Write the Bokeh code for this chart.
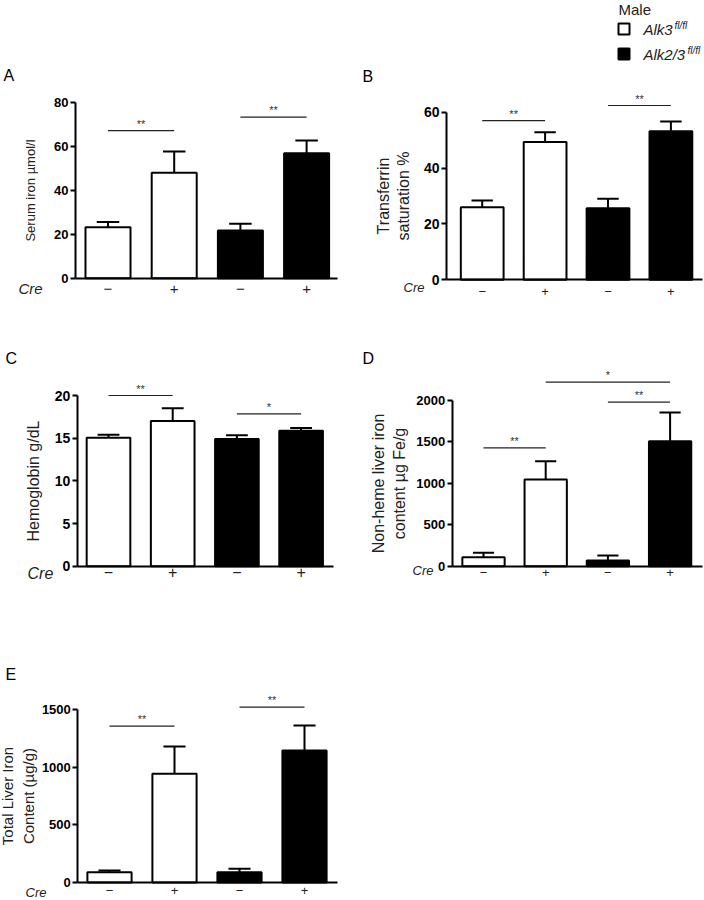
from bokeh.plotting import figure
from bokeh.layouts import column, row
from bokeh.models import FixedTicker, ColumnDataSource, Range1d, LinearAxis
from bokeh.core.properties import value
from bokeh.embed import file_html
from bokeh.resources import INLINE

FONT = "Liberation Sans"

# ---------------- data ----------------
bar_x = [1, 2, 3, 4]
genotype = ["Alk3", "Alk3", "Alk2/3", "Alk2/3"]
cre_labels = ["\u2212", "+", "\u2212", "+"]
legend_names = ["Alk3", "Alk2/3"]
legend_sup = "fl/fl"
legend_title = "Male"

serum_iron_mean = [23.2, 47.9, 21.7, 56.8]
serum_iron_sem = [2.3, 9.7, 3.0, 5.8]
serum_iron_sig = [(1, 2, 67.1, "**"), (3, 4, 73.2, "**")]
serum_iron_ticks = [0, 20, 40, 60, 80]

tsat_mean = [26.0, 49.3, 25.6, 53.2]
tsat_sem = [2.4, 3.5, 3.4, 3.5]
tsat_sig = [(1, 2, 57.0, "**"), (3, 4, 62.4, "**")]
tsat_ticks = [0, 20, 40, 60]

hb_mean = [15.04, 17.0, 14.9, 15.86]
hb_sem = [0.36, 1.5, 0.45, 0.34]
hb_sig = [(1, 2, 20.0, "**"), (3, 4, 17.85, "*")]
hb_ticks = [0, 5, 10, 15, 20]

nonheme_mean = [109, 1046, 69, 1509]
nonheme_sem = [53, 221, 60, 346]
nonheme_sig = [(1, 2, 1429, "**"), (3, 4, 1980, "**"), (2, 4, 2221, "*")]
nonheme_ticks = [0, 500, 1000, 1500, 2000]

total_mean = [89, 944, 89, 1146]
total_sem = [15, 237, 30, 218]
total_sig = [(1, 2, 1358, "**"), (3, 4, 1523, "**")]
total_ticks = [0, 500, 1000, 1500]

TXT = "#222222"


def make_panel(mean, sem, sig, ticks, ylabel, letter, g, st):
    # page-pixel -> data helpers (layout only)
    def dx(px):
        return 1 + (px - g["c1"]) / g["s"]

    def dy(py):
        return (g["y0"] - py) / g["ky"]

    p = figure(width=g["W"], height=g["H"], output_backend="svg", toolbar_location=None,
               x_range=Range1d(dx(g["L"]), dx(g["L"] + g["W"])),
               y_range=Range1d(dy(g["T"] + g["H"]), dy(g["T"])),
               x_axis_location=None, y_axis_location=None, min_border=0)
    p.outline_line_color = None
    p.grid.visible = False
    p.background_fill_color = "white"
    p.border_fill_color = "white"

    bw = 0.68
    fills = ["white", "white", "black", "black"]
    src = ColumnDataSource(dict(x=bar_x, top=mean, fill=fills))
    p.vbar(x="x", top="top", bottom=0, width=bw, source=src, fill_color="fill",
           line_color="black", line_width=2)

    # error bars (upper only)
    err_top = [m + s for m, s in zip(mean, sem)]
    cap = 0.17
    p.segment(x0=bar_x, y0=mean, x1=bar_x, y1=err_top, line_color="black", line_width=2)
    p.segment(x0=[x - cap for x in bar_x], y0=err_top, x1=[x + cap for x in bar_x], y1=err_top,
              line_color="black", line_width=2)

    # significance lines
    sx0 = [s[0] for s in sig]
    sx1 = [s[1] for s in sig]
    sy = [s[2] for s in sig]
    stx = [s[3] for s in sig]
    p.segment(x0=sx0, y0=sy, x1=sx1, y1=sy, line_color=TXT, line_width=1.2)
    p.text(x=[(a + b) / 2 for a, b in zip(sx0, sx1)], y=sy, text=stx, text_align="center",
           text_baseline="bottom", y_offset=-1, text_font=value(FONT),
           text_font_size="11px", text_color="#333333")

    # axes at fixed locations
    ya = LinearAxis(fixed_location=dx(g["xa"]), bounds=(0, ticks[-1]),
                    ticker=FixedTicker(ticks=ticks))
    ya.minor_tick_line_color = None
    ya.major_tick_out = 5
    ya.major_tick_in = 0
    ya.major_tick_line_width = 2
    ya.axis_line_width = 2
    ya.major_label_text_font = FONT
    ya.major_label_text_font_style = "bold"
    ya.major_label_text_font_size = st["tick_fs"]
    ya.major_label_text_color = "black"
    ya.major_label_standoff = 2
    ya.axis_label = ylabel
    ya.axis_label_text_font = FONT
    ya.axis_label_text_font_style = "normal"
    ya.axis_label_text_font_size = st["ylab_fs"]
    ya.axis_label_text_color = TXT
    ya.axis_label_standoff = st["ylab_so"]
    p.add_layout(ya, "left")

    xa = LinearAxis(fixed_location=0, bounds=(dx(g["xa"]), dx(g["xr"])),
                    ticker=FixedTicker(ticks=bar_x))
    xa.major_label_overrides = {x: c for x, c in zip(bar_x, cre_labels)}
    xa.major_tick_line_color = None
    xa.minor_tick_line_color = None
    xa.major_tick_out = 0
    xa.major_tick_in = 0
    xa.axis_line_width = 2
    xa.major_label_text_font = FONT
    xa.major_label_text_font_size = st["cre_fs"]
    xa.major_label_text_color = TXT
    xa.major_label_standoff = st["x_so"]
    p.add_layout(xa, "below")

    # "Cre" row label and panel letter
    p.text(x=[dx(st["cre"][0])], y=[dy(st["cre"][1])], text=["Cre"], text_align="left",
           text_baseline="middle", text_font=value(FONT), text_font_style="italic",
           text_font_size=st["cre_fs"], text_color=TXT)
    p.text(x=[dx(st["let"][0])], y=[dy(st["let"][1])], text=[letter], text_align="left",
           text_baseline="middle", text_font=value(FONT), text_font_size="16px",
           text_color="black")
    p._dx = dx
    p._dy = dy
    return p


pA = make_panel(serum_iron_mean, serum_iron_sem, serum_iron_sig, serum_iron_ticks,
                "Serum iron \u00b5mol/l", "A",
                dict(L=0, T=0, W=350, H=305, c1=107.5, s=66.2, xa=75, xr=337,
                     y0=277.7, ky=2.2),
                dict(tick_fs="13px", ylab_fs="13px", ylab_so=13, cre_fs="15px", x_so=6,
                     cre=(18, 288), let=(3, 75)))
pB = make_panel(tsat_mean, tsat_sem, tsat_sig, tsat_ticks,
                "Transferrin\nsaturation %", "B",
                dict(L=350, T=0, W=354, H=305, c1=481.7, s=62.9, xa=446, xr=701.7,
                     y0=279.3, ky=2.793),
                dict(tick_fs="14px", ylab_fs="16px", ylab_so=9, cre_fs="13px", x_so=7,
                     cre=(403, 287), let=(362, 76)))
pC = make_panel(hb_mean, hb_sem, hb_sig, hb_ticks,
                "Hemoglobin g/dL", "C",
                dict(L=0, T=305, W=350, H=290, c1=108, s=64.2, xa=76.7, xr=333,
                     y0=565.7, ky=8.535),
                dict(tick_fs="14px", ylab_fs="16px", ylab_so=10, cre_fs="16px", x_so=0,
                     cre=(27, 573), let=(5, 358)))
pD = make_panel(nonheme_mean, nonheme_sem, nonheme_sig, nonheme_ticks,
                "Non-heme liver iron\ncontent \u00b5g Fe/g", "D",
                dict(L=350, T=305, W=354, H=290, c1=483, s=62.2, xa=451.7, xr=701.7,
                     y0=565.7, ky=0.08285),
                dict(tick_fs="13px", ylab_fs="16px", ylab_so=6, cre_fs="13px", x_so=2,
                     cre=(412, 570), let=(362, 358)))
pE = make_panel(total_mean, total_sem, total_sig, total_ticks,
                "Total Liver Iron\nContent (\u00b5g/g)", "E",
                dict(L=0, T=595, W=350, H=305, c1=109, s=65, xa=77.3, xr=336.7,
                     y0=882, ky=0.11513),
                dict(tick_fs="13px", ylab_fs="15px", ylab_so=2, cre_fs="13px", x_so=3,
                     cre=(25, 892), let=(5, 674)))

# ---------------- legend (drawn in panel B's upper area) ----------------
dxB, dyB = pB._dx, pB._dy
sq_x = 623.5
rows_y = [28.5, 53.5]
pB.text(x=[dxB(618)], y=[dyB(9)], text=[legend_title], text_align="left",
        text_baseline="middle", text_font=value(FONT), text_font_size="15px", text_color=TXT)
pB.rect(x=[dxB(sq_x)] * 2, y=[dyB(v) for v in rows_y], width=11, height=11,
        width_units="screen", height_units="screen", fill_color=["white", "black"],
        line_color="black", line_width=2)
pB.text(x=[dxB(643)] * 2, y=[dyB(v) for v in rows_y], text=legend_names, text_align="left",
        text_baseline="middle", text_font=value(FONT), text_font_style="italic",
        text_font_size="15px", text_color=TXT)
pB.text(x=[dxB(674), dxB(687)], y=[dyB(v - 4) for v in rows_y], text=[legend_sup] * 2,
        text_align="left", text_baseline="middle", text_font=value(FONT),
        text_font_style="italic", text_font_size="10px", text_color=TXT)

layout = column(row(pA, pB), row(pC, pD), pE)
open("out.html", "w").write(file_html(layout, INLINE))
